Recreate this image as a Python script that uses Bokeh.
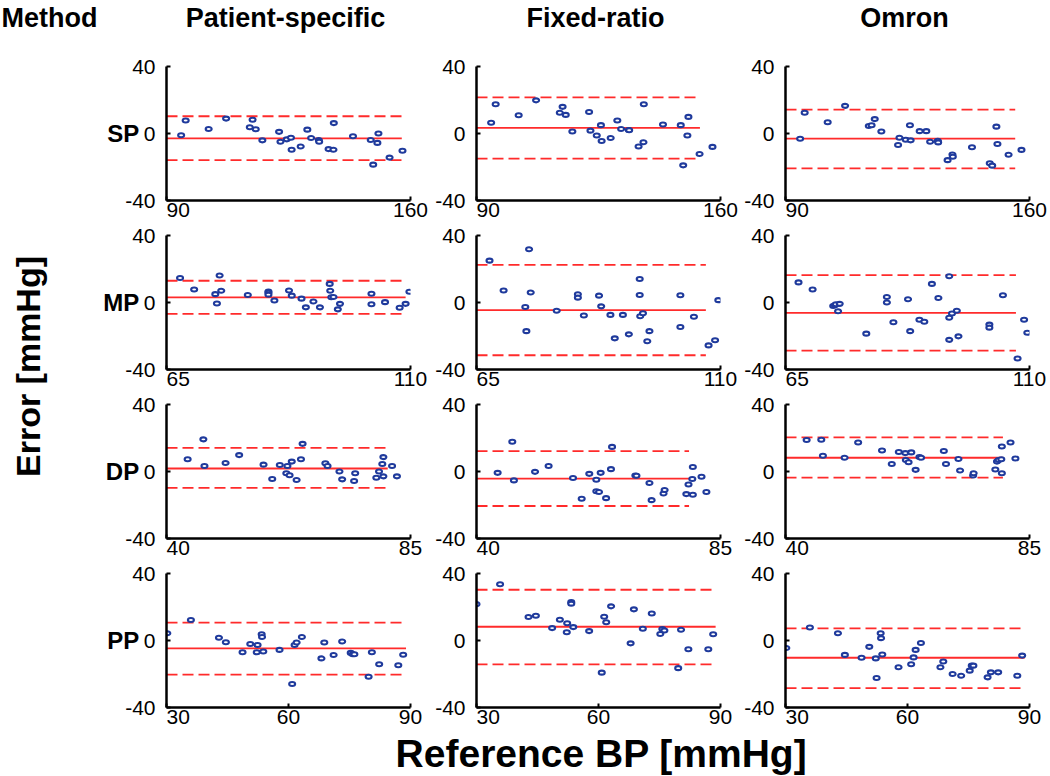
from bokeh.plotting import figure
from bokeh.layouts import row, column
from bokeh.models import FixedTicker, Range1d, ColumnDataSource
from bokeh.core.properties import value
from bokeh.embed import file_html
from bokeh.resources import INLINE
from math import pi

# ---------------- labels ----------------
methods = ["Patient-specific", "Fixed-ratio", "Omron"]
measures = ["SP", "MP", "DP", "PP"]
x_limits = [(90, 160), (65, 110), (40, 85), (30, 90)]
x_tick_values = [[90, 160], [65, 110], [40, 85], [30, 60, 90]]
y_tick_values = [-40, 0, 40]

# ---------------- data (reference BP, error) ----------------
sp_ps_x = [94.2, 95.5, 102.1, 107.1, 113.9, 114.7, 115.6, 117.5, 122.3, 122.7, 124.5, 125.7, 125.9, 128.5,
           130.4, 131.5, 133.7, 133.8, 136.5, 137.9, 138.0, 143.5, 148.6, 149.3, 150.5, 150.8, 154.0, 157.7]
sp_ps_y = [-1.0, 7.8, 2.7, 8.9, 3.7, 8.2, 2.5, -4.1, 1.0, -4.9, -3.5, -2.5, -9.7, -7.8,
           2.3, -2.7, -3.9, -4.9, -9.3, -9.7, 6.2, -1.6, -3.9, -18.6, -5.6, 0.0, -14.4, -10.3]
sp_fr_x = sp_ps_x
sp_fr_y = [6.4, 17.5, 10.9, 19.8, 12.4, 15.9, 11.1, 1.2, 12.8, 1.7, -1.2, 5.0, -4.5, -2.7,
           7.8, 2.7, 2.1, 1.9, -7.8, -5.2, 17.5, 5.4, 5.0, -19.0, -1.2, 9.9, -12.2, -8.0]
sp_om_x = sp_ps_x
sp_om_y = [-3.1, 12.4, 6.7, 16.5, 4.5, 4.9, 8.6, 1.2, -6.9, -2.5, -3.7, 4.9, -4.1, 1.4,
           1.4, -4.9, -4.3, -5.3, -15.9, -12.5, -13.9, -8.2, -17.8, -19.2, 4.1, -6.3, -12.7, -9.8]

mp_ps_x = [67.5, 70.1, 74.0, 74.3, 74.8, 75.1, 80.0, 83.8, 83.8, 83.8, 84.9, 87.6, 88.1, 89.9, 90.7,
           92.1, 93.3, 95.1, 95.2, 95.4, 95.8, 96.6, 97.0, 102.8, 102.8, 105.3, 108.0, 109.1, 109.8]
mp_ps_y = [14.6, 7.8, 5.0, -0.6, 16.1, 7.0, 4.5, 6.6, 5.8, 4.7, 1.2, 7.2, 4.1, 2.3, -2.9,
           0.6, -2.9, 11.1, 7.0, 3.1, 3.3, -4.1, -0.8, 5.2, -1.0, 0.2, -3.1, -0.8, 6.4]
mp_fr_x = [67.4, 70.0, 74.0, 74.2, 74.7, 75.0, 79.8, 83.7, 83.7, 84.8, 87.6, 88.0, 89.7, 90.5,
           92.0, 93.1, 95.1, 95.1, 95.2, 95.7, 96.5, 96.9, 102.6, 102.6, 105.1, 107.8, 109.0, 109.6]
mp_fr_y = [25.0, 7.2, -2.7, -17.1, 31.8, 6.0, -4.9, 4.9, 2.9, -7.8, 4.1, -2.3, -7.4, -21.4,
           -7.4, -19.0, 14.0, 4.5, -8.2, -6.4, -23.1, -17.1, 4.3, -14.6, -8.5, -25.6, -22.5, 1.4]
mp_om_x = [67.4, 70.0, 73.8, 74.1, 74.3, 74.7, 75.0, 79.9, 83.7, 83.7, 84.9, 87.6, 88.0, 89.7, 90.6,
           92.0, 93.2, 95.2, 95.2, 95.2, 95.7, 96.6, 96.9, 102.6, 102.6, 105.1, 107.8, 109.0, 109.6]
mp_om_y = [12.0, 7.8, -2.1, -1.6, -1.0, -5.2, -0.8, -18.6, 3.3, 0.0, -11.8, 1.9, -17.1, -10.3, -11.5,
           11.1, 2.7, 15.7, -9.1, -22.3, -6.6, -4.9, -20.2, -13.2, -15.0, 4.3, -33.4, -10.3, -18.1]

dp_ps_x = [43.9, 46.8, 47.0, 50.9, 53.4, 57.9, 59.5, 60.9, 62.1, 62.3, 62.7, 63.1, 64.0, 64.8,
           65.1, 69.3, 69.7, 71.9, 72.4, 74.6, 74.8, 78.7, 79.2, 79.8, 80.0, 80.0, 81.6, 82.5]
dp_ps_y = [7.3, 19.2, 3.3, 5.1, 9.8, 4.1, -4.5, 3.9, -1.0, 3.3, -2.2, 5.9, -5.1, 7.3,
           16.5, 4.9, 3.3, 0.0, -4.7, -5.7, -1.0, -3.7, 0.0, 4.5, 8.6, -2.9, 3.3, -2.9]
dp_fr_x = [43.9, 46.6, 46.9, 50.8, 53.3, 57.8, 59.4, 60.8, 62.1, 62.1, 62.6, 62.9, 63.9, 64.8,
           65.0, 69.3, 69.5, 71.9, 72.3, 74.5, 74.7, 78.7, 79.1, 79.8, 79.9, 79.9, 81.5, 82.4]
dp_fr_y = [-0.8, 17.8, -5.3, -0.2, 3.3, -3.9, -16.3, -1.4, -4.9, -11.8, -12.2, -0.8, -15.9, 1.4,
           14.7, -2.4, -2.5, -6.9, -17.1, -13.1, -11.0, -13.5, -7.8, -4.5, 2.7, -13.9, -3.1, -12.2]
dp_om_x = [43.9, 46.6, 46.9, 50.9, 53.4, 57.8, 59.6, 60.9, 62.1, 62.2, 62.7, 63.2, 64.0, 64.7, 65.0,
           69.2, 69.6, 71.9, 72.2, 74.6, 74.7, 78.7, 79.0, 79.3, 79.8, 79.9, 79.9, 81.5, 82.4]
dp_om_y = [18.8, 19.0, 9.4, 8.2, 17.3, 12.5, 4.5, 11.6, 11.0, 6.9, 5.5, 11.4, 1.0, 8.6, 8.2,
           12.2, 4.5, 7.5, 0.6, -2.4, -1.0, 1.2, 5.9, 6.9, 7.3, 14.9, -1.0, 17.3, 7.8]

pp_ps_x = [30.2, 36.0, 42.9, 44.6, 48.7, 50.6, 52.2, 52.4, 53.4, 53.5, 53.8, 57.8, 60.9, 61.5,
           62.0, 63.3, 68.1, 68.8, 71.1, 73.2, 75.3, 75.8, 76.2, 79.7, 80.5, 82.3, 87.0, 88.2]
pp_ps_y = [4.3, 12.2, 1.6, -1.0, -7.0, -2.1, -7.0, -2.7, 3.7, 2.1, -6.6, -5.6, -26.0, -2.7,
           -1.2, 2.1, -10.7, -1.2, -8.7, -0.6, -7.4, -8.2, -8.2, -21.6, -7.0, -14.2, -14.8, -8.5]
pp_fr_x = [30.0, 35.8, 42.8, 44.6, 48.6, 50.5, 52.2, 52.3, 53.3, 53.3, 53.8, 57.7, 60.8, 61.4,
           61.9, 63.1, 67.9, 68.7, 70.9, 73.1, 75.2, 75.7, 76.2, 79.6, 80.3, 82.1, 87.0, 88.2]
pp_fr_y = [21.7, 33.6, 14.0, 14.8, 7.4, 12.4, 4.9, 10.3, 22.9, 22.0, 8.0, 5.6, -19.2, 14.2,
           10.9, 20.4, -1.7, 18.6, 7.0, 16.1, 3.9, 6.8, 6.0, -16.5, 6.4, -5.2, -5.2, 3.7]
pp_om_x = pp_ps_x
pp_om_y = [-4.5, 7.8, 4.3, -8.6, -10.3, -3.8, -10.7, -22.4, 4.3, 1.4, -8.4, -16.0, -14.2, -10.1,
           -5.6, -1.5, -16.0, -12.5, -20.0, -21.0, -18.0, -15.0, -15.0, -22.0, -19.0, -19.0, -21.0, -9.0]

# bias and limits of agreement, [measure][method]
bias = [[-2.9, 3.3, -3.1], [3.1, -4.5, -6.2], [1.8, -4.3, 8.2], [-4.7, 8.2, -10.3]]
loa_upper = [[10.3, 21.6, 14.3], [13.0, 22.5, 16.3], [14.1, 12.2, 20.4], [10.7, 30.3, 7.2]]
loa_lower = [[-15.9, -15.0, -20.8], [-6.8, -31.5, -28.7], [-9.8, -20.6, -3.7], [-20.4, -14.2, -28.4]]
loa_x_end = [[157.5, 154.1, 155.9], [109.1, 107.3, 107.5], [80.8, 79.2, 80.1], [88.9, 88.8, 88.8]]

panel_x = [[sp_ps_x, sp_fr_x, sp_om_x], [mp_ps_x, mp_fr_x, mp_om_x],
           [dp_ps_x, dp_fr_x, dp_om_x], [pp_ps_x, pp_fr_x, pp_om_x]]
panel_y = [[sp_ps_y, sp_fr_y, sp_om_y], [mp_ps_y, mp_fr_y, mp_om_y],
           [dp_ps_y, dp_fr_y, dp_om_y], [pp_ps_y, pp_fr_y, pp_om_y]]

# ---------------- layout / style ----------------
FONT = "Liberation Sans"
HEADER_H = 40
FOOTER_H = 46
LEFT_W = 100
FRAME_W = 244
FRAME_H = 136
COL_LEFT = [66, 45, 45]
COL_RIGHT = [21, 20, 19]
ROW_TOP = [26, 12, 12, 12]
ROW_BOTTOM = 21
COL_W = [COL_LEFT[c] + FRAME_W + COL_RIGHT[c] for c in range(3)]
ROW_H = [ROW_TOP[r] + FRAME_H + ROW_BOTTOM for r in range(4)]
TOTAL_W = LEFT_W + sum(COL_W)

RED = "#ff2b2b"
BLUE = "#1f3a9c"
FIG_SPACE = "\u2007"   # pushes the first x tick label right of the y axis, as in the source


def panel(r, c):
    lo, hi = x_limits[r]
    p = figure(width=COL_W[c], height=ROW_H[r],
               x_range=Range1d(lo, hi), y_range=Range1d(-40, 40),
               output_backend="svg", toolbar_location=None,
               min_border_left=COL_LEFT[c], min_border_right=COL_RIGHT[c],
               min_border_top=ROW_TOP[r], min_border_bottom=ROW_BOTTOM)
    p.grid.visible = False
    p.outline_line_color = None

    # limits of agreement & bias
    xs = [lo, loa_x_end[r][c]]
    p.line(xs, [loa_upper[r][c]] * 2, line_color=RED, line_width=1.8, line_dash="11 5")
    p.line(xs, [loa_lower[r][c]] * 2, line_color=RED, line_width=1.8, line_dash="11 5")
    p.line(xs, [bias[r][c]] * 2, line_color=RED, line_width=1.8)

    src = ColumnDataSource(dict(x=panel_x[r][c], y=panel_y[r][c]))
    p.ellipse(x="x", y="y", source=src, width=6, height=4,
              width_units="screen", height_units="screen",
              fill_color="white", line_color=BLUE, line_width=2.1)

    for ax in (p.xaxis[0], p.yaxis[0]):
        ax.axis_line_color = "black"
        ax.axis_line_width = 2.5
        ax.major_tick_line_color = "black"
        ax.major_tick_line_width = 2
        ax.major_tick_in = 4
        ax.major_tick_out = 0
        ax.minor_tick_line_color = None
        ax.major_label_text_font = FONT
        ax.major_label_text_font_size = "21px"
        ax.major_label_text_color = "black"

    p.xaxis.ticker = FixedTicker(ticks=x_tick_values[r])
    p.xaxis.major_label_standoff = -3
    first = x_tick_values[r][0]
    p.xaxis.major_label_overrides = {first: FIG_SPACE * 2 + str(first)}
    p.yaxis.ticker = FixedTicker(ticks=y_tick_values)
    p.yaxis.major_label_standoff = 11
    p.yaxis.major_label_overrides = {t: str(t) for t in y_tick_values}

    if c == 0:
        p.yaxis.axis_label = measures[r]
        p.yaxis.axis_label_orientation = "horizontal"
        p.yaxis.axis_label_standoff = -17
        p.yaxis.axis_label_text_font = FONT
        p.yaxis.axis_label_text_font_style = "bold"
        p.yaxis.axis_label_text_font_size = "24px"
        p.yaxis.axis_label_text_color = "black"
    return p


def blank(w, h):
    p = figure(width=w, height=h, x_range=Range1d(0, w), y_range=Range1d(0, h),
               x_axis_type=None, y_axis_type=None, output_backend="svg",
               toolbar_location=None, min_border=0)
    p.outline_line_color = None
    return p


# header: column titles centred over each panel frame
header = blank(TOTAL_W, HEADER_H)
header.text(x=[1], y=[HEADER_H - 17.6], text=["Method"], text_font=value(FONT), text_font_style="bold",
            text_font_size="27px", text_align="left", text_baseline="middle", text_color="black")
title_x = []
acc = LEFT_W
for c in range(3):
    title_x.append(acc + COL_LEFT[c] + FRAME_W / 2 - 3)
    acc += COL_W[c]
header.text(x=title_x, y=[HEADER_H - 17.6] * 3, text=methods, text_font=value(FONT),
            text_font_style="bold", text_font_size="27px", text_align="center",
            text_baseline="middle", text_color="black")

# left: y title
body_h = sum(ROW_H)
left = blank(LEFT_W, body_h)
left.text(x=[27], y=[body_h - (366 - HEADER_H)], text=["Error [mmHg]"], angle=pi / 2,
          text_font=value(FONT), text_font_style="bold", text_font_size="34px",
          text_align="center", text_baseline="middle", text_color="black")

# footer: x title
footer = blank(TOTAL_W, FOOTER_H)
footer.text(x=[601], y=[FOOTER_H - 22.5], text=["Reference BP [mmHg]"], text_font=value(FONT),
            text_font_style="bold", text_font_size="39px", text_align="center",
            text_baseline="middle", text_color="black")

grid = column(*[row(*[panel(r, c) for c in range(3)]) for r in range(4)])
layout = column(header, row(left, grid), footer)

open("out.html", "w").write(file_html(layout, INLINE))
